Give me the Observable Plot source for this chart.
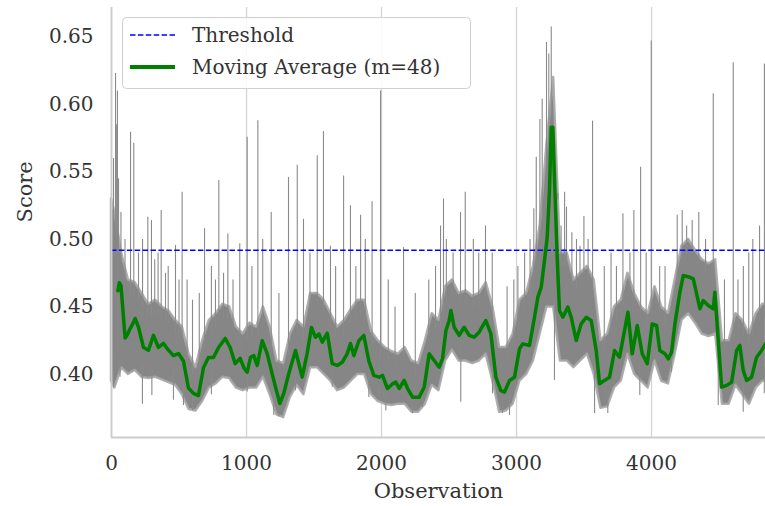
<!DOCTYPE html>
<html>
<head>
<meta charset="utf-8">
<script src="https://cdn.jsdelivr.net/npm/d3@7"></script>
<script src="https://cdn.jsdelivr.net/npm/@observablehq/plot@0.6"></script>
<style>
  html, body { margin: 0; padding: 0; background: #fff; }
  #wrap { position: relative; width: 765px; height: 506px; overflow: hidden; }
  #legend { position: absolute; left: 122px; top: 17px; }
</style>
</head>
<body>
<div id="wrap"></div>
<script>
// ---- data ----
const threshold = 0.492;
const xTicks = [0, 1000, 2000, 3000, 4000];
const yTicks = [0.40, 0.45, 0.50, 0.55, 0.60, 0.65];

// moving average (m=48): observation index and value
const maX = [48,58,70,101,120,138,160,175,200,237,274,311,348,385,422,459,496,533,570,607,644,681,718,755,793,842,879,916,953,980,1005,1030,1054,1079,1116,1153,1202,1247,1276,1313,1363,1412,1449,1481,1511,1536,1561,1598,1635,1672,1709,1746,1770,1795,1832,1869,1906,1943,1983,2007,2044,2081,2106,2131,2168,2193,2230,2279,2316,2353,2390,2427,2452,2477,2501,2514,2538,2575,2612,2649,2686,2723,2773,2810,2847,2884,2911,2948,2985,3022,3047,3096,3133,3158,3183,3207,3227,3244,3257,3269,3281,3301,3318,3343,3380,3405,3442,3479,3516,3553,3590,3615,3652,3689,3726,3763,3800,3825,3857,3894,3931,3968,4005,4037,4061,4099,4124,4148,4173,4210,4235,4284,4309,4358,4383,4420,4457,4469,4494,4519,4556,4593,4630,4654,4679,4704,4741,4778,4815,4844];
const maY = [0.462,0.468,0.466,0.427,0.430,0.434,0.438,0.4415,0.435,0.420,0.418,0.429,0.420,0.423,0.418,0.414,0.4155,0.410,0.390,0.386,0.3844,0.405,0.4126,0.4126,0.420,0.4267,0.420,0.408,0.412,0.405,0.4017,0.4128,0.414,0.4067,0.425,0.4155,0.3956,0.3785,0.386,0.4007,0.4178,0.398,0.4155,0.4348,0.4276,0.430,0.424,0.4306,0.408,0.4067,0.409,0.4155,0.423,0.414,0.425,0.4289,0.410,0.3993,0.398,0.3993,0.3896,0.393,0.3943,0.3896,0.3956,0.3896,0.3832,0.3832,0.3906,0.4153,0.4104,0.4054,0.4118,0.4326,0.440,0.4474,0.435,0.4289,0.435,0.4289,0.4276,0.4313,0.440,0.430,0.398,0.388,0.3869,0.3956,0.398,0.419,0.4227,0.4215,0.4424,0.4573,0.4647,0.4844,0.5017,0.5363,0.5832,0.5832,0.5462,0.4869,0.4474,0.4424,0.4499,0.4424,0.4252,0.4375,0.4424,0.440,0.4178,0.3931,0.3956,0.398,0.4178,0.4128,0.4326,0.4461,0.4153,0.4363,0.4153,0.408,0.4375,0.4363,0.4178,0.4153,0.4116,0.4165,0.4375,0.461,0.4733,0.472,0.4709,0.4487,0.4548,0.4511,0.4487,0.461,0.4252,0.3906,0.3919,0.3943,0.4178,0.4215,0.403,0.3956,0.398,0.4128,0.4178,0.4227];

// raw score: dense band (low / high) per 50-observation bin
const bandX = [0,25,75,125,175,225,275,325,375,425,475,525,575,625,675,725,775,825,875,925,975,1025,1075,1125,1175,1225,1275,1325,1375,1425,1475,1525,1575,1625,1675,1725,1775,1825,1875,1925,1975,2025,2075,2125,2175,2225,2275,2325,2375,2425,2475,2525,2575,2625,2675,2725,2775,2825,2875,2925,2975,3025,3075,3125,3175,3225,3275,3325,3375,3425,3475,3525,3575,3625,3675,3725,3775,3825,3875,3925,3975,4025,4075,4125,4175,4225,4275,4325,4375,4425,4475,4525,4575,4625,4675,4725,4775,4825,4850];
const bandLo = [0.395,0.39,0.405,0.40,0.403,0.398,0.397,0.398,0.396,0.394,0.392,0.385,0.374,0.373,0.38,0.39,0.393,0.398,0.397,0.39,0.388,0.39,0.39,0.398,0.385,0.37,0.368,0.383,0.392,0.385,0.405,0.405,0.40,0.395,0.388,0.39,0.395,0.40,0.40,0.385,0.38,0.378,0.377,0.378,0.378,0.372,0.372,0.378,0.392,0.388,0.41,0.418,0.41,0.41,0.408,0.41,0.415,0.395,0.372,0.373,0.378,0.395,0.40,0.41,0.43,0.45,0.45,0.41,0.41,0.405,0.41,0.415,0.40,0.375,0.376,0.39,0.395,0.415,0.40,0.395,0.39,0.41,0.395,0.393,0.415,0.44,0.445,0.438,0.43,0.428,0.43,0.378,0.378,0.392,0.385,0.378,0.39,0.395,0.395];
const bandHi = [0.53,0.52,0.49,0.47,0.468,0.46,0.452,0.455,0.45,0.447,0.44,0.435,0.415,0.405,0.425,0.44,0.445,0.452,0.45,0.435,0.43,0.438,0.435,0.45,0.435,0.41,0.408,0.43,0.44,0.435,0.46,0.46,0.455,0.445,0.435,0.44,0.448,0.455,0.455,0.432,0.425,0.42,0.417,0.415,0.42,0.41,0.408,0.425,0.445,0.44,0.465,0.47,0.46,0.462,0.458,0.46,0.468,0.45,0.42,0.42,0.43,0.455,0.46,0.48,0.51,0.57,0.62,0.49,0.49,0.47,0.475,0.48,0.47,0.425,0.43,0.45,0.455,0.475,0.46,0.45,0.445,0.465,0.45,0.445,0.47,0.495,0.50,0.492,0.485,0.482,0.485,0.425,0.425,0.445,0.44,0.43,0.445,0.452,0.452];

// raw score: isolated upward spikes (observation, peak value)
const spikeX = [15,30,38,44,52,70,100,141,165,200,230,269,296,320,345,368,400,420,474,500,523,560,600,650,689,740,770,795,830,862,900,950,1005,1040,1084,1120,1183,1240,1311,1376,1422,1470,1524,1570,1622,1660,1719,1770,1810,1845,1880,1930,1993,2050,2100,2163,2250,2350,2400,2437,2459,2480,2530,2585,2620,2680,2720,2770,2820,2930,2980,3010,3060,3100,3128,3146,3173,3190,3222,3239,3257,3306,3330,3356,3370,3410,3444,3470,3499,3530,3563,3650,3700,3740,3788,3840,3869,3919,3960,3998,4060,4100,4190,4227,4260,4301,4350,4400,4457,4540,4605,4640,4680,4720,4750,4800,4836];
const spikeY = [0.56,0.623,0.585,0.610,0.545,0.52,0.50,0.5795,0.5713,0.49,0.50,0.5165,0.514,0.485,0.49,0.5215,0.475,0.48,0.4956,0.47,0.535,0.47,0.455,0.46,0.508,0.48,0.47,0.5437,0.475,0.504,0.47,0.4968,0.5758,0.48,0.588,0.50,0.52,0.46,0.546,0.555,0.515,0.49,0.562,0.58,0.495,0.48,0.547,0.525,0.48,0.518,0.50,0.528,0.61,0.47,0.45,0.494,0.46,0.47,0.48,0.51,0.53,0.50,0.49,0.52,0.535,0.50,0.49,0.51,0.49,0.465,0.47,0.48,0.49,0.50,0.5227,0.561,0.589,0.604,0.646,0.6375,0.6575,0.534,0.51,0.535,0.524,0.505,0.50,0.495,0.517,0.50,0.5877,0.48,0.49,0.48,0.519,0.49,0.5215,0.5536,0.49,0.647,0.48,0.48,0.518,0.5215,0.51,0.514,0.52,0.50,0.608,0.47,0.631,0.47,0.48,0.49,0.50,0.51,0.63];

// raw score: downward needles below the band (observation, lowest value)
const dipX = [15,63,229,299,459,533,600,740,1005,1202,1239,1363,1635,1906,1983,2032,2230,2304,2587,2822,2896,2948,3281,3578,3676,3913,4148,4494,4679,4835];
const dipY = [0.39,0.398,0.378,0.3844,0.381,0.377,0.373,0.385,0.387,0.3696,0.3684,0.388,0.3906,0.383,0.383,0.373,0.3709,0.3758,0.3795,0.3857,0.371,0.3696,0.3956,0.371,0.371,0.3844,0.4017,0.377,0.372,0.3857];

// ---- build tables ----
const ma = maX.map((x, i) => ({x, y: maY[i]}));
const band = bandX.map((x, i) => ({x, lo: bandLo[i], hi: bandHi[i]}));
const at = (arr, x) => {
  const n = bandX.length;
  const i = Math.min(n - 1, Math.max(1, d3.bisectLeft(bandX, x)));
  const x0 = bandX[i - 1], x1 = bandX[i];
  const t = Math.max(0, Math.min(1, (x - x0) / (x1 - x0)));
  return arr[i - 1] + t * (arr[i] - arr[i - 1]);
};
const spikes = spikeX.map((x, i) => ({x, base: Math.min(at(bandHi, x) - 0.01, spikeY[i]), top: spikeY[i]}));
const dips = dipX.map((x, i) => ({x, base: at(bandLo, x) + 0.01, bottom: dipY[i]}));

const yMin = 0.3533, yMax = 0.6719;
const font = "'DejaVu Serif', serif";

const chart = Plot.plot({
  width: 765, height: 506,
  marginLeft: 111, marginRight: 0, marginTop: 7, marginBottom: 69,
  style: {fontFamily: font, fontSize: "20px", color: "#333", background: "#fff", overflow: "visible"},
  x: {domain: [0, 4844]},
  y: {domain: [yMin, yMax]},
  marks: [
    Plot.gridX(xTicks, {stroke: "#d5d5d5", strokeOpacity: 1, strokeWidth: 1.3}),
    Plot.areaY(band, {x: "x", y1: "lo", y2: "hi", fill: "#808080", fillOpacity: 0.95, stroke: "#a6a6a6", strokeWidth: 2.5, strokeOpacity: 0.9}),
    Plot.ruleX(spikes, {x: "x", y1: "base", y2: "top", stroke: "#8a8a8a", strokeWidth: 1.1}),
    Plot.ruleX(dips, {x: "x", y1: "base", y2: "bottom", stroke: "#8a8a8a", strokeWidth: 1.1}),
    Plot.ruleY([threshold], {stroke: "#0000ff", strokeWidth: 1.5, strokeDasharray: "5.5,2.4"}),
    Plot.line(ma, {x: "x", y: "y", stroke: "#008000", strokeWidth: 3.5}),
    Plot.ruleX([0], {stroke: "#cccccc", strokeWidth: 1.8}),
    Plot.ruleY([yMin], {stroke: "#cccccc", strokeWidth: 1.8}),
    Plot.axisX(xTicks, {tickSize: 0, tickPadding: 18, tickFormat: d => String(d), label: null, fill: "#333"}),
    Plot.axisY(yTicks, {tickSize: 0, tickPadding: 18, tickFormat: d => d.toFixed(2), label: null, fill: "#333"}),
    Plot.text(["Observation"], {frameAnchor: "bottom", dy: 60, fontSize: 21, fill: "#333"}),
    Plot.text(["Score"], {frameAnchor: "left", dx: -86, rotate: -90, fontSize: 21, fill: "#333"})
  ]
});
document.getElementById("wrap").appendChild(chart);

// legend
const lg = d3.select("#wrap").append("svg").attr("id", "legend")
  .attr("width", 350).attr("height", 73)
  .style("font-family", font).style("font-size", "20px");
lg.append("rect").attr("x", 0.5).attr("y", 0.5).attr("width", 348).attr("height", 71).attr("rx", 4)
  .attr("fill", "#fff").attr("fill-opacity", 0.85).attr("stroke", "#d0d0d0");
lg.append("line").attr("x1", 8).attr("x2", 53).attr("y1", 18).attr("y2", 18)
  .attr("stroke", "#0000ff").attr("stroke-width", 1.5).attr("stroke-dasharray", "5.5,2.4");
lg.append("text").attr("x", 70).attr("y", 18).attr("dy", "0.35em").attr("fill", "#333").text("Threshold");
lg.append("line").attr("x1", 8).attr("x2", 53).attr("y1", 50).attr("y2", 50)
  .attr("stroke", "#008000").attr("stroke-width", 4);
lg.append("text").attr("x", 70).attr("y", 50).attr("dy", "0.35em").attr("fill", "#333").text("Moving Average (m=48)");
</script>
</body>
</html>
